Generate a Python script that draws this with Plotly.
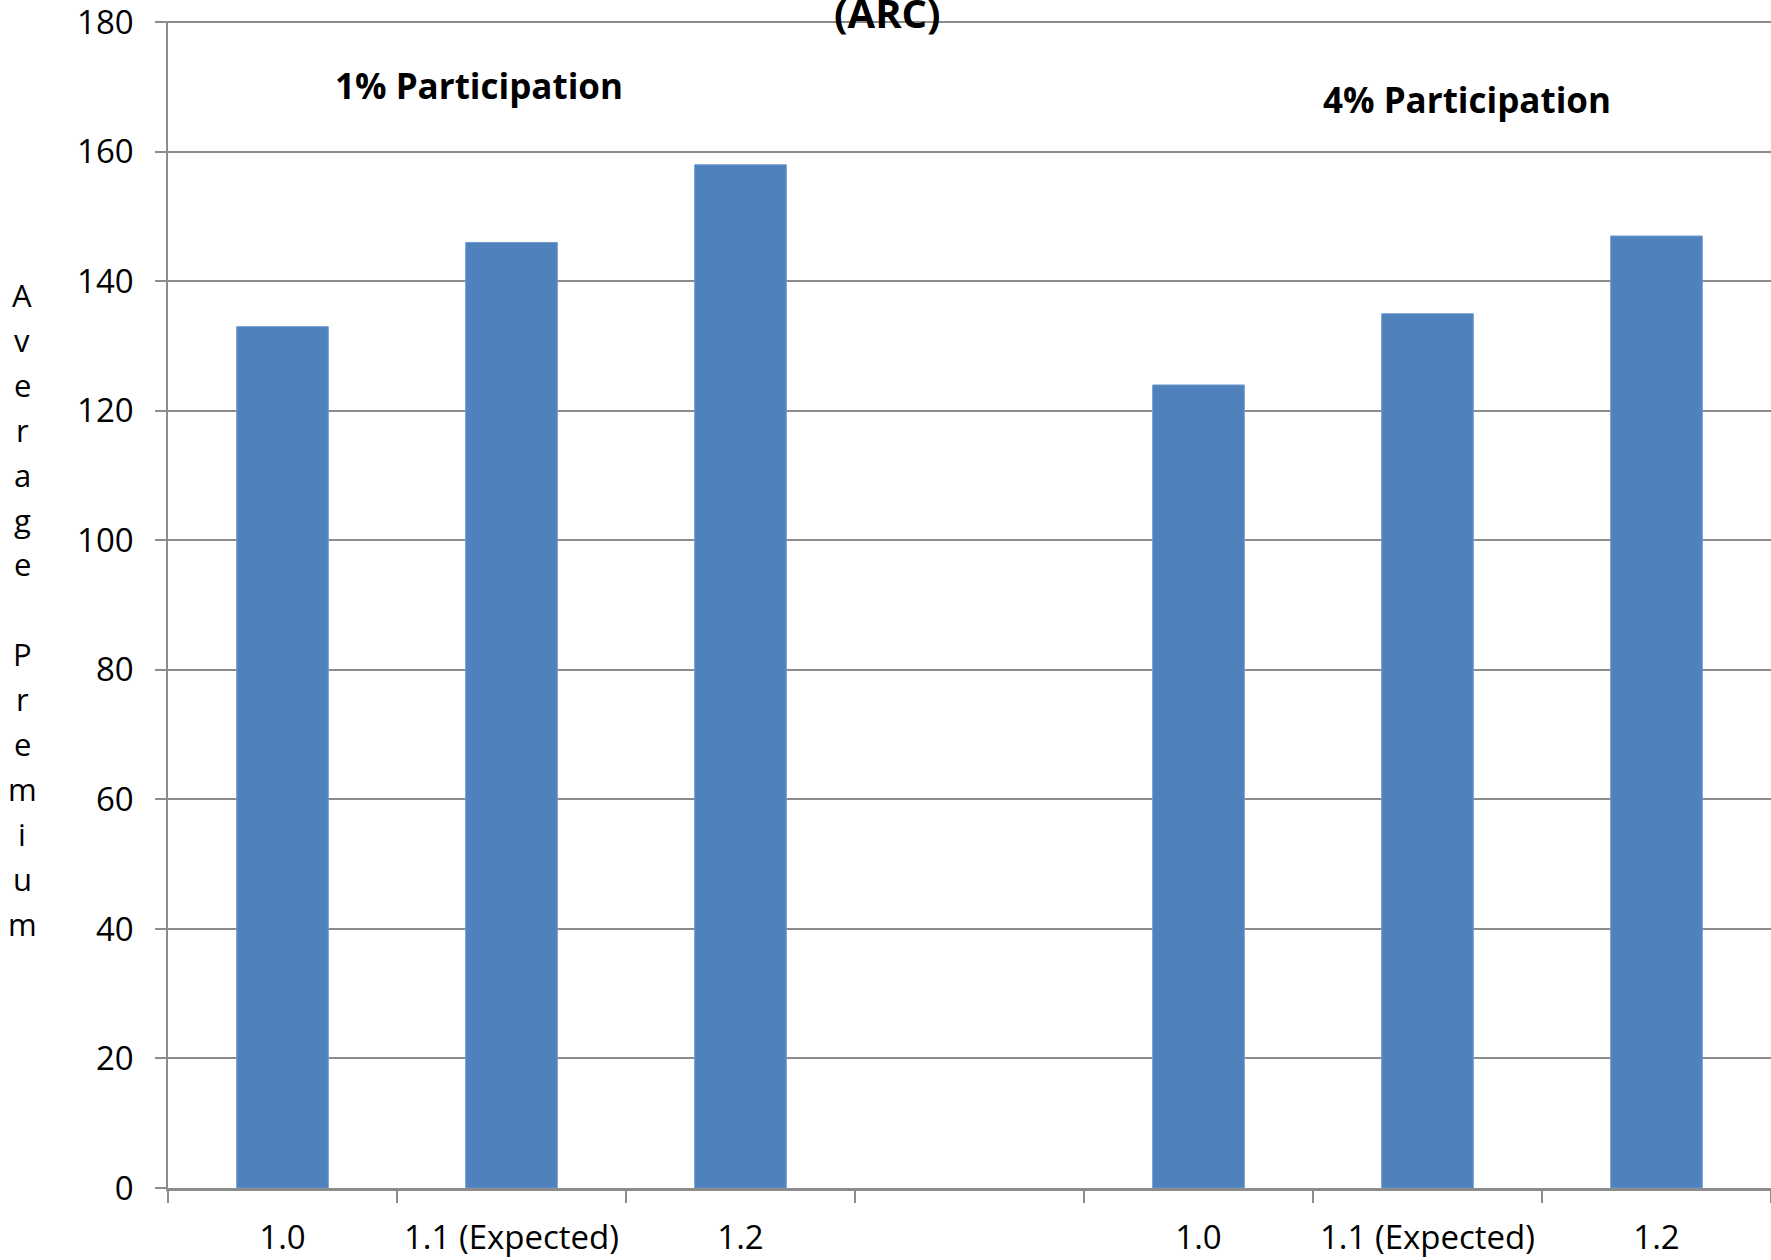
import plotly.graph_objects as go

# Data
category_ids = ["p1_1.0", "p1_1.1", "p1_1.2", "gap", "p4_1.0", "p4_1.1", "p4_1.2"]
category_labels = ["1.0", "1.1 (Expected)", "1.2", "", "1.0", "1.1 (Expected)", "1.2"]
premium_values = [133, 146, 158, None, 124, 135, 147]
group_labels = ["1% Participation", "4% Participation"]
y_ticks = [0, 20, 40, 60, 80, 100, 120, 140, 160, 180]
y_title = "Average Premium"
title_tail = "(ARC)"

W, H = 1771, 1260
Y_TOP = 180.2
PL, PR, PT, PB = 168, 1771, 21, 1188   # plot area in page pixels
L, R, T, B = PL, W - PR, PT, H - PB
FONT = "Open Sans"
GRID = "#8c8c8c"

fig = go.Figure()
fig.add_trace(go.Bar(
    x=category_ids, y=premium_values, width=0.4,
    marker=dict(color="#4F81BD", line=dict(color="#6f9bd0", width=1)),
    showlegend=False, hoverinfo="y",
))

fig.update_layout(
    template="none",
    width=W, height=H,
    margin=dict(l=L, r=R, t=T, b=B, pad=0, autoexpand=False),
    paper_bgcolor="white", plot_bgcolor="white",
    font=dict(family=FONT, size=33, color="black"),
    xaxis=dict(
        type="category", categoryorder="array", categoryarray=category_ids,
        tickvals=category_ids, ticktext=category_labels,
        range=[-0.5, 6.5], tickson="boundaries", automargin=False,
        ticks="outside", ticklen=12, tickcolor=GRID, tickwidth=1.5,
        showline=True, linecolor=GRID, linewidth=2.5,
        showgrid=False, zeroline=False,
        ticklabelstandoff=19, ticklabeloverflow="allow",
        tickfont=dict(family=FONT, size=33, color="black"),
    ),
    yaxis=dict(
        range=[0, Y_TOP], tickvals=y_ticks, tickmode="array", automargin=False,
        ticks="outside", ticklen=11, tickcolor=GRID, tickwidth=1.5,
        showline=True, linecolor=GRID, linewidth=1.5,
        showgrid=True, gridcolor=GRID, gridwidth=1.5,
        zeroline=False, ticklabelstandoff=15, ticklabeloverflow="allow",
        tickfont=dict(family=FONT, size=33, color="black"),
    ),
    bargap=0.6,
)

plot_w = PR - PL
plot_h = PB - PT
def px(pix):
    return (pix - PL) / plot_w
def py(pix):
    return (PB - pix) / plot_h

# Group labels
group_pos = [(479, 86), (1467, 99)]
for text, (gx, gy) in zip(group_labels, group_pos):
    fig.add_annotation(
        text=f"<b>{text}</b>", xref="paper", yref="paper",
        x=px(gx), y=py(gy), xanchor="center", yanchor="middle",
        showarrow=False, font=dict(family=FONT, size=35, color="black"),
    )

# Title tail (partially cut off at top, as in the source)
fig.add_annotation(
    text=f"<b>{title_tail}</b>", xref="paper", yref="paper",
    x=px(887), y=py(12), xanchor="center", yanchor="middle",
    showarrow=False, font=dict(family=FONT, size=40, color="black"),
)

# Stacked vertical y-axis title
top_y, step = 295, 44.9
for i, ch in enumerate(y_title):
    if ch == " ":
        continue
    fig.add_annotation(
        text=ch, xref="paper", yref="paper",
        x=px(22), y=py(top_y + i * step),
        xanchor="center", yanchor="middle", showarrow=False,
        font=dict(family=FONT, size=31, color="black"),
    )

fig.write_html(
    "out.html",
    config={"displayModeBar": False},
    post_script="document.body.style.margin='0';document.body.style.overflow='hidden';",
)
